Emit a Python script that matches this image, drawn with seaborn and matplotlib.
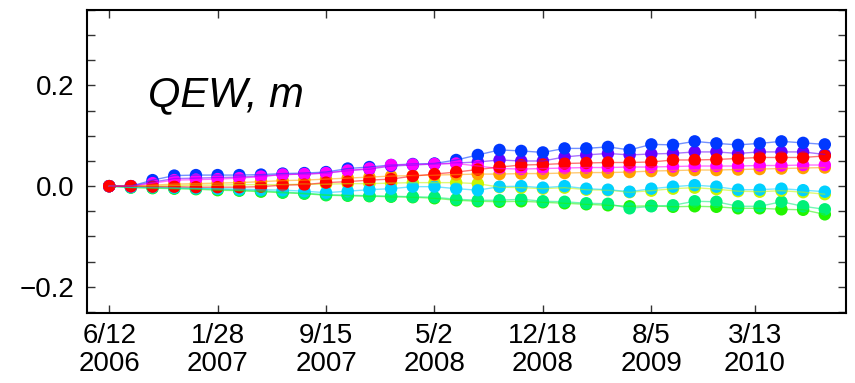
#Import packages
import seaborn as sns
import matplotlib.pyplot as plt
import matplotlib.ticker as mticker
import pandas as pd

#Data: 34 epochs, 46 days apart, starting 6/12/2006
start = '2006-06-12'
n_epochs = 34
step = '46D'
tick_dates = ['2006-06-12', '2007-01-28', '2007-09-15', '2008-05-02',
              '2008-12-18', '2009-08-05', '2010-03-13']
tick_labels = ['6/12\n2006', '1/28\n2007', '9/15\n2007', '5/2\n2008',
               '12/18\n2008', '8/5\n2009', '3/13\n2010']

green = [0, -0.003, -0.004, -0.005, -0.006, -0.008, -0.009, -0.011, -0.013, -0.015,
         -0.018, -0.019, -0.020, -0.021, -0.022, -0.024, -0.028, -0.030, -0.031, -0.030,
         -0.032, -0.034, -0.036, -0.038, -0.040, -0.039, -0.041, -0.040, -0.041, -0.044,
         -0.044, -0.046, -0.047, -0.056]
springgreen = [0, -0.002, -0.003, -0.004, -0.005, -0.006, -0.008, -0.009, -0.012, -0.014,
               -0.017, -0.018, -0.019, -0.020, -0.021, -0.022, -0.026, -0.028, -0.028, -0.026,
               -0.030, -0.031, -0.034, -0.035, -0.044, -0.040, -0.038, -0.030, -0.031, -0.040,
               -0.040, -0.031, -0.040, -0.046]
yellow = [0, 0, 0, 0.001, 0.002, 0.002, 0.003, 0.003, 0.003, 0.004,
          0.004, 0.005, 0.005, 0.006, 0.007, 0.007, 0.007, 0.005, -0.002, -0.003,
          -0.005, -0.003, -0.007, -0.008, -0.012, -0.009, -0.005, -0.003, -0.006, -0.010,
          -0.011, -0.009, -0.012, -0.016]
cyan = [0, -0.002, -0.002, -0.003, -0.004, -0.005, -0.006, -0.007, -0.008, -0.010,
        -0.013, -0.010, -0.007, -0.005, -0.001, -0.001, -0.005, -0.008, -0.001, 0.000,
        -0.003, 0.000, -0.005, -0.007, -0.011, -0.005, -0.001, 0.002, -0.001, -0.007,
        -0.007, -0.005, -0.008, -0.011]
orange = [0, 0, 0.002, 0.004, 0.005, 0.006, 0.007, 0.009, 0.011, 0.012,
          0.014, 0.016, 0.018, 0.020, 0.021, 0.022, 0.023, 0.024, 0.024, 0.025,
          0.025, 0.026, 0.027, 0.027, 0.028, 0.030, 0.031, 0.032, 0.032, 0.033,
          0.034, 0.035, 0.036, 0.037]
violet = [0, 0, 0.008, 0.015, 0.016, 0.017, 0.018, 0.020, 0.023, 0.024,
          0.026, 0.031, 0.034, 0.040, 0.042, 0.044, 0.046, 0.048, 0.052, 0.050,
          0.050, 0.058, 0.062, 0.065, 0.062, 0.064, 0.065, 0.068, 0.068, 0.065,
          0.068, 0.068, 0.068, 0.063]
blue = [0, 0, 0.012, 0.021, 0.022, 0.022, 0.022, 0.023, 0.025, 0.026,
        0.028, 0.035, 0.038, 0.042, 0.044, 0.045, 0.052, 0.062, 0.072, 0.070,
        0.067, 0.075, 0.075, 0.078, 0.072, 0.083, 0.082, 0.089, 0.085, 0.082,
        0.085, 0.089, 0.086, 0.083]
magenta = [0, 0, 0.006, 0.012, 0.013, 0.014, 0.016, 0.019, 0.023, 0.024,
           0.026, 0.031, 0.035, 0.042, 0.043, 0.044, 0.045, 0.040, 0.035, 0.034,
           0.035, 0.036, 0.037, 0.037, 0.038, 0.038, 0.039, 0.040, 0.040, 0.040,
           0.041, 0.041, 0.042, 0.042]
red = [0, 0, -0.001, -0.001, -0.002, -0.002, -0.002, -0.001, 0.002, 0.003,
       0.007, 0.009, 0.012, 0.014, 0.020, 0.024, 0.028, 0.033, 0.038, 0.042,
       0.043, 0.045, 0.046, 0.047, 0.047, 0.048, 0.052, 0.052, 0.053, 0.055,
       0.057, 0.057, 0.057, 0.060]

series = {'green': green, 'springgreen': springgreen, 'yellow': yellow, 'cyan': cyan,
          'orange': orange, 'violet': violet, 'blue': blue, 'magenta': magenta, 'red': red}
colors = {'green': '#22f500', 'springgreen': '#00f078', 'yellow': '#c8f500',
          'cyan': '#00d0ff', 'orange': '#ffa000', 'magenta': '#ff00ff',
          'violet': '#6400ff', 'blue': '#0038ff', 'red': '#ff0000'}

dates = pd.date_range(start, periods=n_epochs, freq=step)
df = pd.DataFrame(series, index=dates).rename_axis('date').reset_index()
df = df.melt(id_vars='date', var_name='series', value_name='value') #long form, drawing order kept

#Set figure
sns.set_theme(style='ticks')
plt.rcParams['font.family'] = ['Liberation Sans', 'DejaVu Sans']
plt.rcParams['text.color'] = 'black'
plt.rcParams['xtick.color'] = 'black'
plt.rcParams['ytick.color'] = 'black'
fig = plt.figure(figsize=(8.55, 3.83), dpi=100)
ax = fig.add_axes([0.1018, 0.1828, 0.8877, 0.7911])

sns.lineplot(data=df, x='date', y='value', hue='series', hue_order=list(series),
             palette=colors, linewidth=1, alpha=0.55, legend=False, ax=ax)
sns.scatterplot(data=df, x='date', y='value', hue='series', hue_order=list(series),
                palette=colors, s=80, linewidth=0, legend=False, ax=ax)

#Axes
ax.set_xlim(dates[0] - pd.Timedelta(days=47), dates[0] + pd.Timedelta(days=1563))
ax.set_ylim(-0.252, 0.35)
ax.set_xticks(pd.to_datetime(tick_dates))
ax.set_xticklabels(tick_labels, fontsize=20, linespacing=1.1)
ax.set_yticks([-0.2, 0.0, 0.2])
ax.set_yticklabels(['\u22120.2', '0.0', '0.2'], fontsize=20)
ax.yaxis.set_minor_locator(mticker.MultipleLocator(0.05))
ax.tick_params(which='both', direction='in', top=True, right=True, length=6,
               width=1, color='#333333')
ax.tick_params(axis='x', pad=7)
ax.tick_params(axis='y', pad=9)
ax.set_xlabel('')
ax.set_ylabel('')
for sp in ax.spines.values():
    sp.set_linewidth(1.5)
    sp.set_color('black')

ax.text(0.08, 0.72, 'QEW, m', transform=ax.transAxes, fontsize=30,
        style='italic', ha='left', va='center', color='black')

plt.savefig('out.png', dpi=100) #Export figure
